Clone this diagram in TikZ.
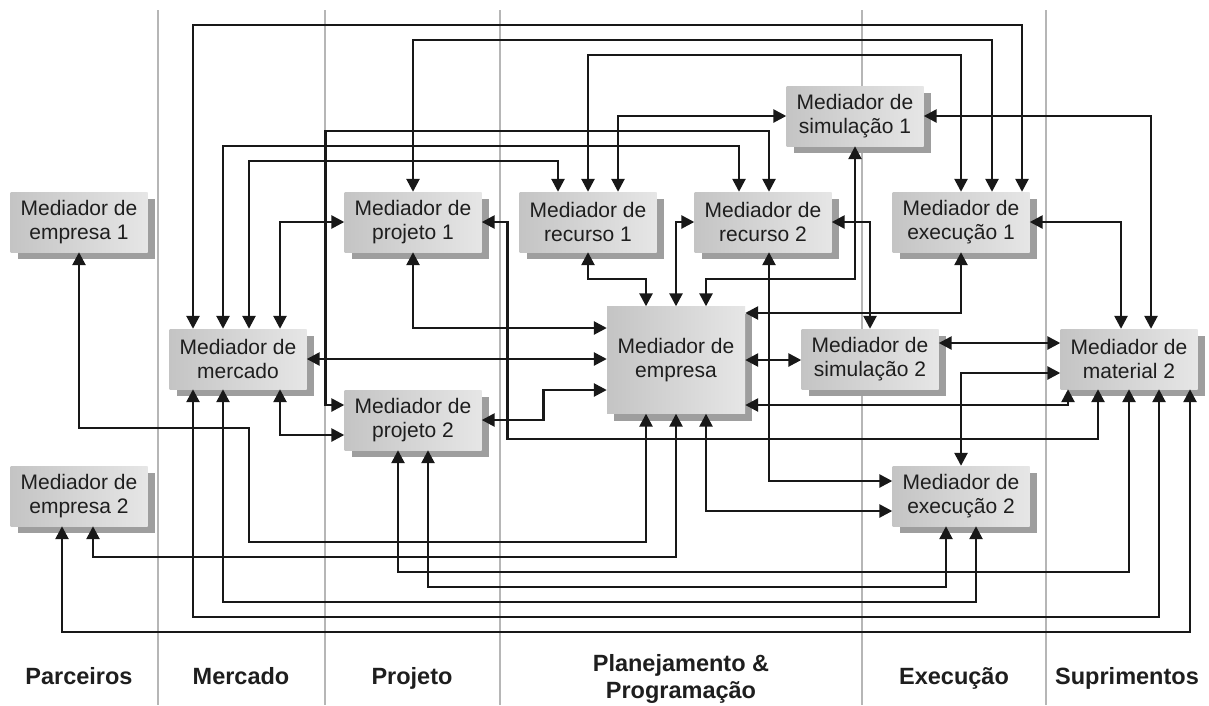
\documentclass[tikz,border=0pt]{standalone}
\usepackage{fontspec}
\setmainfont{Liberation Sans}
\usetikzlibrary{arrows.meta,shadows}
\definecolor{boxL}{RGB}{196,196,196}
\definecolor{boxR}{RGB}{230,230,230}
\definecolor{shadowc}{RGB}{158,158,158}
\definecolor{linec}{RGB}{24,24,24}
\definecolor{divc}{RGB}{182,182,182}
\definecolor{textc}{RGB}{30,30,30}

\begin{document}
\begin{tikzpicture}[x=1pt,y=-1pt,
  mediator/.style={minimum width=137pt,minimum height=60pt,inner sep=0pt,align=center,
    left color=boxL,right color=boxR,draw=none,text=textc,
    font=\fontsize{21}{23.5}\selectfont,
    drop shadow={shadow xshift=7pt,shadow yshift=-7pt,fill=shadowc,opacity=1}},
  conn/.style={line width=2.6pt,draw=linec,
    {Triangle[length=13pt,width=13pt]}-{Triangle[length=13pt,width=13pt]}},
  divider/.style={line width=1.4pt,draw=divc},
  column/.style={font=\fontsize{23.5}{27}\selectfont\bfseries,text=textc,align=center,inner sep=0pt}]

\fill[white] (0,0) rectangle (1209,705);
\useasboundingbox (0,0) rectangle (1209,705);

% column separators
\foreach \cx in {158,325,500,862,1046}
  \draw[divider] (\cx,10) -- (\cx,705);

% mediators
\node[mediator] (emp1)  at (79,222)  {Mediador de\\empresa 1};
\node[mediator] (emp2)  at (79,496)  {Mediador de\\empresa 2};
\node[mediator] (merc)  at (238,359) {Mediador de\\mercado};
\node[mediator] (proj1) at (413,222) {Mediador de\\projeto 1};
\node[mediator] (proj2) at (413,420) {Mediador de\\projeto 2};
\node[mediator] (rec1)  at (588,222) {Mediador de\\recurso 1};
\node[mediator] (rec2)  at (763,222) {Mediador de\\recurso 2};
\node[mediator] (sim1)  at (855,116) {Mediador de\\simulação 1};
\node[mediator] (exe1)  at (961,222) {Mediador de\\execução 1};
\node[mediator,minimum width=138pt,minimum height=107pt] (emp) at (676,360) {Mediador de\\empresa};
\node[mediator] (sim2)  at (870,359) {Mediador de\\simulação 2};
\node[mediator] (mat2)  at (1129,359) {Mediador de\\material 2};
\node[mediator] (exe2)  at (961,496) {Mediador de\\execução 2};

% column titles
\node[column,anchor=base] (tpar) at (79,684)   {Parceiros};
\node[column,anchor=base] (tmer) at (241,684)  {Mercado};
\node[column,anchor=base] (tpro) at (412,684)  {Projeto};
\node[column] (tpla) at (681,679) {Planejamento \&\\Programação};
\node[column,anchor=base] (texe) at (954,684)  {Execução};
\node[column,anchor=base] (tsup) at (1127,684) {Suprimentos};

% links along the top
\draw[conn] ([xshift=-45pt]merc.north) |- (600,25) -| ([xshift=61pt]exe1.north);
\draw[conn] (proj1.north) |- (700,40) -| ([xshift=31pt]exe1.north);
\draw[conn] (rec1.north) |- (800,55) -| (exe1.north);
\draw[conn] ([xshift=30pt]rec1.north) |- (sim1.west);
\draw[conn] (sim1.east) -| ([xshift=22pt]mat2.north);
\draw[conn] (exe1.east) -| ([xshift=-8pt]mat2.north);
\draw[conn] ([yshift=15pt]proj2.west) -- ++(-19,0) |- (600,131) -| ([xshift=6pt]rec2.north);
\draw[conn] ([xshift=-15pt]merc.north) |- (500,146) -| ([xshift=-24pt]rec2.north);
\draw[conn] ([xshift=11pt]merc.north) |- (400,161) -| ([xshift=-30pt]rec1.north);
\draw[conn] ([xshift=42pt]merc.north) |- (proj1.west);

% links around the enterprise mediator
\draw[conn] (proj1.east) -- ++(26,0) |- (800,439) -| ([xshift=-31pt]mat2.south);
\draw[conn] (proj1.south) |- ([yshift=32pt]emp.west);
\draw[conn] (merc.east) -- (merc.east -| emp.west);
\draw[conn] (proj2.east) -- ++(62,0) |- ([yshift=-30pt]emp.west);
\draw[conn] ([xshift=42pt]merc.south) |- ([yshift=-15pt]proj2.west);
\draw[conn] (rec1.south) |- (620,279) -| ([xshift=-30pt]emp.north);
\draw[conn] (rec2.west) -| (emp.north);
\draw[conn] ([xshift=30pt]emp.north) |- (780,279) -| (sim1.south);
\draw[conn] (rec2.east) -| (sim2.north);
\draw[conn] ([xshift=6pt]rec2.south) |- ([yshift=15pt]exe2.west);
\draw[conn] (exe1.south) |- ([yshift=47pt]emp.east);
\draw[conn] (emp.east) -- (emp.east -| sim2.west);
\draw[conn] ([yshift=16pt]sim2.east) -- ([yshift=16pt]mat2.west);
\draw[conn] ([yshift=-14pt]mat2.west) -| (exe2.north);
\draw[conn] ([yshift=-45pt]emp.east) -| ([xshift=-61pt]mat2.south);

% links along the bottom
\draw[conn] (emp1.south) |- (249,428) |- (600,542) -| ([xshift=-30pt]emp.south);
\draw[conn] ([xshift=14pt]emp2.south) |- (400,557) -| (emp.south);
\draw[conn] ([xshift=30pt]emp.south) |- ([yshift=-15pt]exe2.west);
\draw[conn] ([xshift=-15pt]proj2.south) |- (800,572) -| (mat2.south);
\draw[conn] ([xshift=15pt]proj2.south) |- (700,587) -| ([xshift=-15pt]exe2.south);
\draw[conn] ([xshift=-15pt]merc.south) |- (700,602) -| ([xshift=15pt]exe2.south);
\draw[conn] ([xshift=-45pt]merc.south) |- (700,617) -| ([xshift=30pt]mat2.south);
\draw[conn] ([xshift=-17pt]emp2.south) |- (700,632) -| ([xshift=61pt]mat2.south);
\end{tikzpicture}
\end{document}
